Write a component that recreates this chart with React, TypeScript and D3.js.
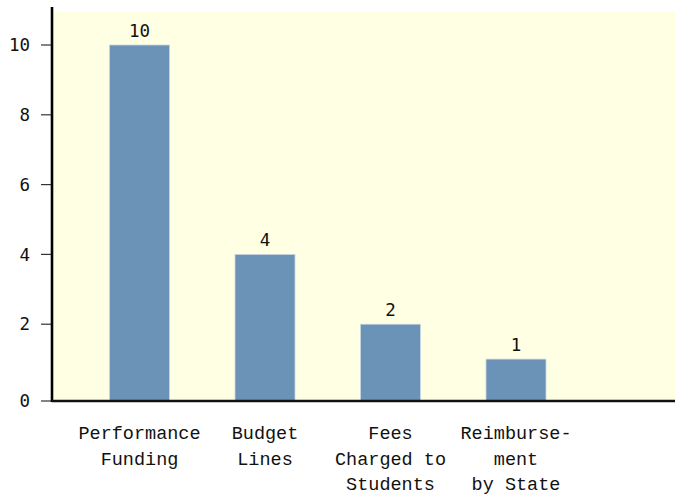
import React from "react";
import * as d3 from "d3";

const categories = ["Performance Funding", "Budget Lines", "Fees Charged to Students", "Reimbursement by State"];
const labelLines = [
  ["Performance", "Funding"],
  ["Budget", "Lines"],
  ["Fees", "Charged to", "Students"],
  ["Reimburse-", "ment", "by State"],
];
const values = [10, 4, 2, 1];
const yTicks = [0, 2, 4, 6, 8, 10];

const W = 675;
const H = 495;
const axisX = 52;
const baseY = 401;
const topY = 7;
const numFont = "'DejaVu Sans Mono', monospace";
const labFont = "'Liberation Mono', 'Courier New', monospace";

export default function App() {
  const x = d3.scalePoint<string>().domain(categories).range([139.5, 516]);
  const y = d3.scaleLinear().domain([0, 10]).range([394, 45]);
  const barW = 60;
  const tickY = (t: number) => (t === 0 ? baseY : y(t));

  return (
    <svg width={W} height={H} style={{ position: "absolute", left: 0, top: 0, background: "#fff" }}>
      <rect x={axisX} y={12} width={W - axisX} height={baseY - 12} fill="#ffffe3" />
      {categories.map((c, i) => (
        <rect
          key={c}
          x={(x(c) as number) - barW / 2}
          y={y(values[i])}
          width={barW}
          height={baseY - y(values[i])}
          fill="#6b93b8"
          stroke="#c9d6e2"
          strokeWidth={0.8}
        />
      ))}
      {categories.map((c, i) => (
        <text
          key={"v" + c}
          x={x(c) as number}
          y={y(values[i]) - 8.5}
          textAnchor="middle"
          fontFamily={numFont}
          fontSize={17.5}
          fill="#111"
        >
          {values[i]}
        </text>
      ))}
      {yTicks.map((t) => (
        <g key={t}>
          <line x1={41} x2={axisX} y1={tickY(t)} y2={tickY(t)} stroke="#333" strokeWidth={1.2} />
          <text
            x={30}
            y={tickY(t)}
            dy="0.35em"
            textAnchor="end"
            fontFamily={numFont}
            fontSize={17.5}
            fill="#111"
          >
            {t}
          </text>
        </g>
      ))}
      <line x1={axisX} x2={axisX} y1={topY} y2={baseY + 1} stroke="#000" strokeWidth={2.6} />
      <line x1={axisX} x2={W} y1={baseY} y2={baseY} stroke="#111" strokeWidth={2.4} />
      {categories.map((c, i) => (
        <text
          key={"l" + c}
          textAnchor="middle"
          fontFamily={labFont}
          fontSize={18.5}
          fill="#111"
        >
          {labelLines[i].map((ln, j) => (
            <tspan key={j} x={x(c) as number} y={439 + j * 25.5}>
              {ln}
            </tspan>
          ))}
        </text>
      ))}
    </svg>
  );
}
